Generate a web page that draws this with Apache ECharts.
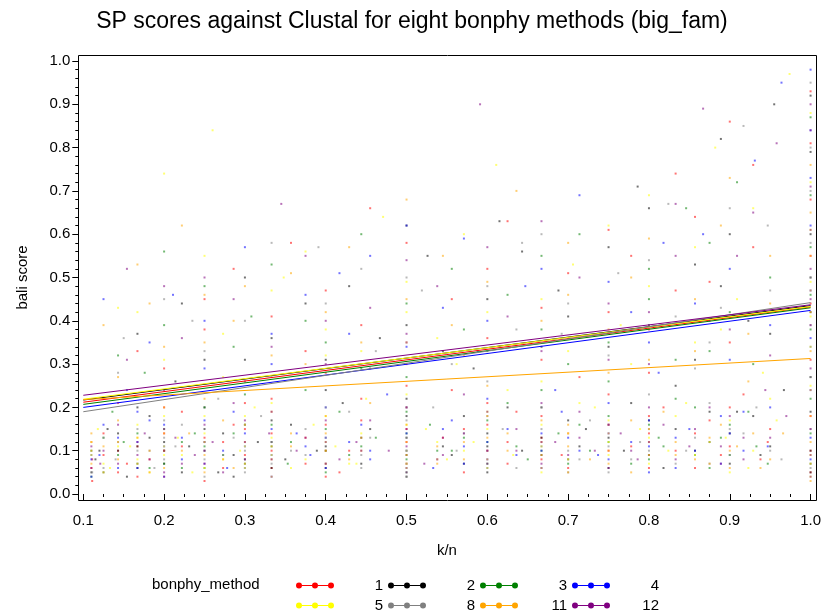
<!DOCTYPE html>
<html>
<head>
<meta charset="utf-8">
<script src="https://cdn.jsdelivr.net/npm/echarts@6/dist/echarts.min.js"></script>
<style>html,body{margin:0;padding:0;background:#fff}#c{width:824px;height:615px}</style>
</head>
<body>
<div id="c"></div>
<script>
const methods = ['1', '2', '3', '4', '5', '8', '11', '12'];
const colors = ['#ff0000', '#000000', '#008000', '#0000ff', '#ffff00', '#808080', '#ffa500', '#800080'];
const xTicks = [0.1, 0.2, 0.3, 0.4, 0.5, 0.6, 0.7, 0.8, 0.9, 1.0];
const yTicks = [0.0, 0.1, 0.2, 0.3, 0.4, 0.5, 0.6, 0.7, 0.8, 0.9, 1.0];
// fitted regression line endpoints (value at k/n = 0.1 and at k/n = 1.0)
const fitX = [0.1, 1.0];
const fitAtStart = [0.212, 0.217, 0.207, 0.200, 0.219, 0.190, 0.218, 0.228];
const fitAtEnd = [0.432, 0.435, 0.430, 0.424, 0.433, 0.442, 0.313, 0.437];

const pts1 = [[0.11,0.06],[0.11,0.12],[0.125,0.09],[0.143,0.05],[0.143,0.21],[0.167,0.11],[0.167,0.33],[0.182,0.08],[0.2,0.14],[0.2,0.04],[0.222,0.19],[0.25,0.07],[0.25,0.45],[0.273,0.12],[0.286,0.16],[0.3,0.09],[0.333,0.22],[0.333,0.06],[0.357,0.58],[0.375,0.13],[0.4,0.1],[0.4,0.28],[0.417,0.05],[0.444,0.17],[0.455,0.66],[0.5,0.12],[0.5,0.35],[0.538,0.08],[0.556,0.24],[0.571,0.15],[0.6,0.52],[0.6,0.1],[0.625,0.07],[0.636,0.19],[0.667,0.43],[0.667,0.13],[0.692,0.09],[0.714,0.27],[0.75,0.16],[0.75,0.61],[0.778,0.11],[0.8,0.38],[0.8,0.06],[0.818,0.2],[0.833,0.74],[0.857,0.14],[0.875,0.49],[0.889,0.09],[0.9,0.86],[0.917,0.23],[0.929,0.57],[0.947,0.12],[1.0,0.05],[1.0,0.31],[1.0,0.68],[1.0,0.93],[1.0,0.18]];
const pts1b = [[0.111,0.03],[0.111,0.08],[0.125,0.14],[0.143,0.1],[0.154,0.07],[0.167,0.04],[0.2,0.1],[0.2,0.2],[0.222,0.11],[0.25,0.13],[0.25,0.03],[0.273,0.06],[0.3,0.15],[0.3,0.21],[0.333,0.1],[0.333,0.14],[0.375,0.07],[0.4,0.16],[0.4,0.04],[0.429,0.1],[0.444,0.22],[0.5,0.07],[0.5,0.15],[0.5,0.25],[0.545,0.13],[0.571,0.05],[0.6,0.16],[0.6,0.21],[0.625,0.12],[0.667,0.08],[0.667,0.18],[0.7,0.06],[0.7,0.14],[0.75,0.1],[0.75,0.23],[0.8,0.14],[0.8,0.18],[0.833,0.1],[0.857,0.06],[0.875,0.17],[0.9,0.11],[0.9,0.2],[0.938,0.08],[0.95,0.15],[1.0,0.1],[1.0,0.44],[1.0,0.81]];
const pts1c = [[0.2,0.29],[0.25,0.38],[0.286,0.52],[0.333,0.41],[0.375,0.33],[0.4,0.47],[0.444,0.39],[0.5,0.58],[0.5,0.3],[0.556,0.45],[0.6,0.36],[0.625,0.63],[0.667,0.31],[0.7,0.51],[0.75,0.42],[0.778,0.55],[0.8,0.28],[0.833,0.47],[0.857,0.64],[0.9,0.35],[0.929,0.76],[1.0,0.55]];
const pts2 = [[0.115,0.08],[0.13,0.15],[0.143,0.1],[0.154,0.04],[0.167,0.2],[0.182,0.13],[0.2,0.07],[0.214,0.26],[0.231,0.11],[0.25,0.15],[0.267,0.05],[0.286,0.09],[0.3,0.31],[0.316,0.12],[0.333,0.17],[0.35,0.08],[0.375,0.44],[0.389,0.1],[0.4,0.06],[0.421,0.21],[0.444,0.13],[0.467,0.36],[0.5,0.09],[0.5,0.18],[0.526,0.55],[0.545,0.11],[0.571,0.07],[0.583,0.29],[0.6,0.14],[0.615,0.63],[0.643,0.1],[0.667,0.2],[0.688,0.47],[0.7,0.08],[0.722,0.15],[0.75,0.34],[0.769,0.1],[0.786,0.71],[0.8,0.17],[0.818,0.06],[0.833,0.25],[0.857,0.53],[0.875,0.12],[0.889,0.82],[0.909,0.19],[0.923,0.4],[0.938,0.09],[0.955,0.9],[0.967,0.24],[1.0,0.1],[1.0,0.42],[1.0,0.79],[1.0,0.27]];
const pts2b = [[0.11,0.05],[0.12,0.1],[0.143,0.14],[0.167,0.06],[0.167,0.11],[0.182,0.18],[0.2,0.12],[0.222,0.05],[0.25,0.1],[0.25,0.2],[0.273,0.14],[0.286,0.04],[0.3,0.08],[0.333,0.06],[0.333,0.12],[0.357,0.16],[0.4,0.11],[0.4,0.24],[0.444,0.07],[0.455,0.15],[0.5,0.04],[0.5,0.13],[0.5,0.22],[0.556,0.09],[0.571,0.18],[0.6,0.05],[0.6,0.11],[0.625,0.2],[0.667,0.13],[0.667,0.09],[0.7,0.17],[0.714,0.11],[0.75,0.06],[0.75,0.13],[0.778,0.21],[0.8,0.09],[0.833,0.15],[0.857,0.1],[0.875,0.19],[0.9,0.07],[0.9,0.14],[0.929,0.18],[0.95,0.11],[1.0,0.05],[1.0,0.19],[1.0,0.6],[1.0,0.92]];
const pts2c = [[0.167,0.37],[0.222,0.44],[0.25,0.31],[0.3,0.5],[0.333,0.36],[0.4,0.31],[0.429,0.48],[0.5,0.39],[0.5,0.62],[0.545,0.33],[0.6,0.45],[0.643,0.56],[0.667,0.34],[0.7,0.41],[0.75,0.57],[0.8,0.39],[0.8,0.66],[0.857,0.31],[0.889,0.48],[0.9,0.6],[0.95,0.37],[1.0,0.5]];
const pts3 = [[0.11,0.1],[0.125,0.05],[0.136,0.19],[0.15,0.12],[0.167,0.07],[0.176,0.28],[0.2,0.1],[0.2,0.56],[0.222,0.06],[0.238,0.14],[0.25,0.2],[0.273,0.09],[0.3,0.16],[0.308,0.41],[0.333,0.11],[0.353,0.07],[0.375,0.24],[0.4,0.15],[0.429,0.09],[0.444,0.6],[0.462,0.13],[0.5,0.05],[0.5,0.27],[0.529,0.16],[0.556,0.1],[0.571,0.38],[0.6,0.12],[0.625,0.21],[0.65,0.08],[0.667,0.55],[0.688,0.14],[0.7,0.3],[0.727,0.1],[0.75,0.18],[0.778,0.07],[0.8,0.45],[0.812,0.13],[0.833,0.22],[0.846,0.66],[0.857,0.09],[0.875,0.33],[0.9,0.16],[0.909,0.72],[0.933,0.11],[0.95,0.5],[1.0,0.07],[1.0,0.22],[1.0,0.57],[1.0,0.87]];
const pts3b = [[0.11,0.04],[0.125,0.13],[0.143,0.09],[0.167,0.14],[0.182,0.06],[0.2,0.15],[0.2,0.07],[0.222,0.12],[0.25,0.06],[0.25,0.11],[0.286,0.14],[0.3,0.07],[0.3,0.23],[0.333,0.16],[0.357,0.12],[0.4,0.05],[0.4,0.1],[0.417,0.19],[0.444,0.11],[0.5,0.08],[0.5,0.14],[0.5,0.19],[0.538,0.1],[0.571,0.13],[0.6,0.07],[0.6,0.17],[0.636,0.11],[0.667,0.1],[0.667,0.24],[0.7,0.07],[0.714,0.16],[0.75,0.12],[0.75,0.26],[0.8,0.08],[0.8,0.16],[0.818,0.11],[0.857,0.2],[0.875,0.06],[0.889,0.13],[0.9,0.09],[0.923,0.19],[0.947,0.07],[1.0,0.14],[1.0,0.38],[1.0,0.69]];
const pts3c = [[0.143,0.32],[0.2,0.39],[0.25,0.48],[0.286,0.34],[0.333,0.53],[0.375,0.4],[0.4,0.35],[0.444,0.29],[0.5,0.44],[0.556,0.52],[0.6,0.33],[0.625,0.46],[0.667,0.38],[0.714,0.6],[0.75,0.35],[0.8,0.52],[0.833,0.31],[0.875,0.58],[0.9,0.42],[0.929,0.3],[1.0,0.46]];
const pts4 = [[0.11,0.04],[0.12,0.09],[0.143,0.13],[0.154,0.24],[0.167,0.06],[0.182,0.17],[0.2,0.11],[0.211,0.46],[0.222,0.08],[0.25,0.12],[0.25,0.29],[0.278,0.06],[0.286,0.19],[0.3,0.11],[0.333,0.04],[0.333,0.37],[0.364,0.14],[0.381,0.09],[0.4,0.2],[0.417,0.51],[0.429,0.12],[0.455,0.08],[0.476,0.23],[0.5,0.14],[0.5,0.62],[0.533,0.06],[0.556,0.17],[0.571,0.11],[0.588,0.33],[0.6,0.08],[0.625,0.15],[0.647,0.48],[0.667,0.1],[0.684,0.24],[0.7,0.13],[0.714,0.69],[0.737,0.09],[0.75,0.21],[0.778,0.42],[0.8,0.11],[0.812,0.28],[0.833,0.06],[0.85,0.15],[0.867,0.6],[0.889,0.18],[0.9,0.31],[0.917,0.1],[0.931,0.77],[0.95,0.2],[0.964,0.95],[1.0,0.13],[1.0,0.36],[1.0,0.62],[1.0,0.98]];
const pts4b = [[0.11,0.08],[0.125,0.16],[0.143,0.06],[0.167,0.12],[0.167,0.19],[0.2,0.04],[0.2,0.16],[0.222,0.13],[0.25,0.07],[0.25,0.17],[0.273,0.1],[0.3,0.14],[0.3,0.06],[0.333,0.09],[0.333,0.15],[0.375,0.11],[0.4,0.06],[0.4,0.13],[0.444,0.16],[0.455,0.1],[0.5,0.06],[0.5,0.1],[0.5,0.2],[0.545,0.15],[0.571,0.07],[0.6,0.12],[0.6,0.22],[0.636,0.09],[0.667,0.14],[0.667,0.06],[0.692,0.19],[0.714,0.1],[0.75,0.14],[0.75,0.08],[0.778,0.12],[0.8,0.17],[0.8,0.05],[0.833,0.13],[0.857,0.1],[0.889,0.07],[0.9,0.14],[0.917,0.19],[0.947,0.11],[1.0,0.08],[1.0,0.24],[1.0,0.47],[1.0,0.84]];
const pts4c = [[0.125,0.45],[0.182,0.35],[0.25,0.4],[0.3,0.57],[0.333,0.3],[0.375,0.46],[0.429,0.37],[0.455,0.55],[0.5,0.34],[0.545,0.43],[0.571,0.59],[0.6,0.4],[0.667,0.52],[0.7,0.36],[0.75,0.49],[0.8,0.35],[0.818,0.58],[0.857,0.44],[0.9,0.52],[0.95,0.39],[1.0,0.73]];
const pts5 = [[0.11,0.09],[0.118,0.15],[0.133,0.06],[0.143,0.43],[0.158,0.11],[0.167,0.16],[0.182,0.23],[0.2,0.09],[0.2,0.74],[0.217,0.13],[0.235,0.05],[0.25,0.18],[0.26,0.84],[0.273,0.27],[0.294,0.1],[0.3,0.06],[0.312,0.2],[0.333,0.13],[0.348,0.5],[0.375,0.08],[0.385,0.16],[0.4,0.32],[0.412,0.11],[0.438,0.07],[0.45,0.22],[0.471,0.64],[0.5,0.1],[0.5,0.42],[0.524,0.15],[0.55,0.08],[0.562,0.3],[0.583,0.12],[0.6,0.19],[0.611,0.76],[0.632,0.09],[0.667,0.26],[0.667,0.05],[0.7,0.14],[0.706,0.53],[0.733,0.2],[0.75,0.09],[0.765,0.39],[0.789,0.15],[0.8,0.69],[0.824,0.1],[0.846,0.21],[0.857,0.35],[0.882,0.8],[0.895,0.13],[0.909,0.45],[0.923,0.06],[0.941,0.28],[0.958,0.17],[0.974,0.97],[1.0,0.04],[1.0,0.25],[1.0,0.49],[1.0,0.72]];
const pts5b = [[0.11,0.12],[0.125,0.07],[0.143,0.11],[0.167,0.08],[0.167,0.13],[0.182,0.05],[0.2,0.11],[0.2,0.18],[0.222,0.09],[0.25,0.06],[0.25,0.14],[0.273,0.08],[0.3,0.11],[0.3,0.18],[0.333,0.09],[0.333,0.21],[0.357,0.06],[0.4,0.12],[0.4,0.18],[0.429,0.07],[0.444,0.14],[0.5,0.07],[0.5,0.16],[0.5,0.23],[0.538,0.12],[0.571,0.1],[0.6,0.06],[0.6,0.15],[0.625,0.24],[0.667,0.11],[0.667,0.16],[0.7,0.08],[0.714,0.21],[0.75,0.12],[0.75,0.17],[0.8,0.07],[0.8,0.13],[0.833,0.18],[0.857,0.09],[0.875,0.12],[0.9,0.05],[0.9,0.17],[0.929,0.1],[0.95,0.22],[1.0,0.09],[1.0,0.34],[1.0,0.61],[1.0,0.88]];
const pts5c = [[0.167,0.42],[0.2,0.31],[0.25,0.55],[0.273,0.37],[0.333,0.47],[0.375,0.56],[0.4,0.38],[0.444,0.33],[0.5,0.49],[0.538,0.36],[0.571,0.6],[0.6,0.42],[0.667,0.45],[0.7,0.33],[0.75,0.62],[0.778,0.3],[0.8,0.48],[0.857,0.57],[0.889,0.38],[0.929,0.66],[1.0,0.41]];
const pts8 = [[0.111,0.05],[0.125,0.13],[0.14,0.08],[0.15,0.36],[0.167,0.1],[0.188,0.06],[0.2,0.17],[0.214,0.11],[0.235,0.4],[0.25,0.08],[0.267,0.22],[0.286,0.13],[0.3,0.05],[0.32,0.18],[0.333,0.27],[0.357,0.1],[0.375,0.15],[0.391,0.57],[0.4,0.07],[0.429,0.19],[0.444,0.09],[0.462,0.33],[0.5,0.13],[0.5,0.07],[0.519,0.47],[0.533,0.2],[0.562,0.1],[0.6,0.26],[0.6,0.06],[0.619,0.15],[0.643,0.58],[0.667,0.11],[0.692,0.37],[0.714,0.08],[0.727,0.17],[0.75,0.05],[0.762,0.51],[0.789,0.12],[0.8,0.23],[0.824,0.67],[0.846,0.1],[0.857,0.29],[0.875,0.07],[0.889,0.43],[0.9,0.15],[0.917,0.85],[0.933,0.2],[0.947,0.62],[0.964,0.08],[1.0,0.15],[1.0,0.39],[1.0,0.58],[1.0,0.8]];
const pts8b = [[0.11,0.09],[0.125,0.06],[0.143,0.12],[0.167,0.15],[0.182,0.1],[0.2,0.08],[0.2,0.13],[0.222,0.16],[0.25,0.12],[0.25,0.04],[0.273,0.09],[0.3,0.1],[0.3,0.16],[0.333,0.07],[0.333,0.12],[0.375,0.09],[0.4,0.13],[0.4,0.2],[0.444,0.06],[0.455,0.13],[0.5,0.1],[0.5,0.17],[0.5,0.04],[0.538,0.08],[0.571,0.14],[0.6,0.1],[0.6,0.18],[0.636,0.06],[0.667,0.15],[0.667,0.2],[0.7,0.1],[0.7,0.05],[0.75,0.11],[0.75,0.16],[0.778,0.08],[0.8,0.1],[0.8,0.15],[0.833,0.07],[0.857,0.13],[0.875,0.21],[0.9,0.09],[0.917,0.14],[0.95,0.1],[1.0,0.06],[1.0,0.27],[1.0,0.5],[1.0,0.7],[1.0,0.95]];
const pts8c = [[0.143,0.28],[0.2,0.45],[0.25,0.33],[0.3,0.4],[0.333,0.58],[0.4,0.44],[0.444,0.52],[0.5,0.35],[0.5,0.5],[0.556,0.3],[0.6,0.48],[0.636,0.38],[0.667,0.6],[0.7,0.44],[0.75,0.32],[0.8,0.54],[0.833,0.41],[0.875,0.35],[0.9,0.66],[0.95,0.47],[1.0,0.34]];
const pts11 = [[0.11,0.07],[0.125,0.11],[0.143,0.08],[0.143,0.27],[0.167,0.13],[0.167,0.53],[0.182,0.05],[0.2,0.2],[0.2,0.1],[0.222,0.62],[0.231,0.14],[0.25,0.09],[0.25,0.35],[0.273,0.17],[0.286,0.06],[0.3,0.12],[0.3,0.48],[0.333,0.08],[0.333,0.19],[0.357,0.11],[0.375,0.3],[0.4,0.07],[0.4,0.14],[0.429,0.57],[0.444,0.1],[0.455,0.21],[0.5,0.06],[0.5,0.16],[0.5,0.68],[0.538,0.11],[0.556,0.39],[0.571,0.08],[0.6,0.13],[0.6,0.25],[0.625,0.1],[0.636,0.7],[0.667,0.06],[0.667,0.17],[0.7,0.11],[0.7,0.46],[0.727,0.08],[0.75,0.14],[0.75,0.28],[0.778,0.05],[0.8,0.12],[0.8,0.59],[0.818,0.19],[0.833,0.09],[0.857,0.33],[0.875,0.07],[0.889,0.16],[0.9,0.73],[0.909,0.11],[0.923,0.26],[0.938,0.06],[0.95,0.44],[0.966,0.14],[1.0,0.03],[1.0,0.12],[1.0,0.33],[1.0,0.55],[1.0,0.76]];
const pts11b = [[0.11,0.1],[0.11,0.14],[0.125,0.05],[0.143,0.12],[0.143,0.17],[0.167,0.07],[0.182,0.1],[0.2,0.06],[0.2,0.14],[0.222,0.1],[0.25,0.05],[0.25,0.12],[0.25,0.22],[0.273,0.08],[0.3,0.07],[0.3,0.16],[0.333,0.11],[0.333,0.04],[0.357,0.14],[0.4,0.1],[0.4,0.18],[0.429,0.08],[0.444,0.13],[0.5,0.09],[0.5,0.12],[0.5,0.2],[0.538,0.07],[0.571,0.12],[0.6,0.08],[0.6,0.18],[0.625,0.14],[0.667,0.09],[0.667,0.12],[0.7,0.05],[0.7,0.16],[0.75,0.07],[0.75,0.1],[0.778,0.17],[0.8,0.09],[0.8,0.15],[0.833,0.12],[0.857,0.08],[0.875,0.13],[0.9,0.06],[0.9,0.1],[0.929,0.14],[0.95,0.08],[1.0,0.07],[1.0,0.18],[1.0,0.24],[1.0,0.42],[1.0,0.65]];
const pts11c = [[0.125,0.39],[0.182,0.44],[0.2,0.34],[0.25,0.46],[0.286,0.4],[0.333,0.32],[0.357,0.51],[0.4,0.42],[0.444,0.35],[0.5,0.45],[0.545,0.55],[0.571,0.32],[0.6,0.49],[0.667,0.4],[0.7,0.58],[0.75,0.38],[0.778,0.5],[0.8,0.31],[0.857,0.45],[0.889,0.62],[0.923,0.37],[0.95,0.55],[1.0,0.47]];
const pts12 = [[0.11,0.11],[0.121,0.07],[0.143,0.16],[0.154,0.52],[0.167,0.09],[0.176,0.14],[0.2,0.05],[0.2,0.24],[0.214,0.13],[0.238,0.09],[0.25,0.5],[0.26,0.12],[0.286,0.21],[0.3,0.08],[0.3,0.26],[0.33,0.14],[0.345,0.67],[0.364,0.1],[0.4,0.17],[0.4,0.4],[0.417,0.08],[0.438,0.12],[0.455,0.29],[0.478,0.1],[0.5,0.2],[0.5,0.54],[0.522,0.07],[0.545,0.13],[0.571,0.23],[0.591,0.9],[0.6,0.1],[0.615,0.34],[0.636,0.15],[0.667,0.07],[0.667,0.63],[0.684,0.12],[0.714,0.19],[0.733,0.1],[0.75,0.44],[0.765,0.14],[0.786,0.08],[0.8,0.3],[0.818,0.16],[0.833,0.55],[0.85,0.11],[0.867,0.89],[0.875,0.2],[0.889,0.07],[0.9,0.38],[0.917,0.13],[0.929,0.65],[0.944,0.24],[0.958,0.81],[0.97,0.18],[1.0,0.09],[1.0,0.29],[1.0,0.52],[1.0,0.71],[1.0,0.9]];
const pts12b = [[0.11,0.06],[0.125,0.1],[0.143,0.07],[0.167,0.12],[0.182,0.08],[0.2,0.1],[0.2,0.15],[0.222,0.07],[0.25,0.1],[0.25,0.16],[0.273,0.05],[0.3,0.12],[0.3,0.17],[0.333,0.08],[0.333,0.19],[0.375,0.13],[0.4,0.07],[0.4,0.12],[0.444,0.1],[0.455,0.17],[0.5,0.05],[0.5,0.11],[0.5,0.15],[0.545,0.09],[0.571,0.14],[0.6,0.07],[0.6,0.19],[0.636,0.1],[0.667,0.12],[0.667,0.21],[0.7,0.09],[0.714,0.13],[0.75,0.06],[0.75,0.16],[0.778,0.1],[0.8,0.12],[0.8,0.2],[0.833,0.08],[0.857,0.15],[0.889,0.11],[0.9,0.18],[0.917,0.08],[0.95,0.13],[1.0,0.04],[1.0,0.15],[1.0,0.39],[1.0,0.61],[1.0,0.84]];
const pts12c = [[0.154,0.31],[0.2,0.48],[0.222,0.36],[0.286,0.45],[0.333,0.34],[0.375,0.55],[0.4,0.3],[0.455,0.43],[0.5,0.37],[0.538,0.48],[0.6,0.57],[0.625,0.41],[0.667,0.33],[0.714,0.5],[0.75,0.31],[0.8,0.42],[0.833,0.67],[0.875,0.4],[0.909,0.55],[0.95,0.32],[1.0,0.45]];
const pointSets = [pts1.concat(pts1b, pts1c), pts2.concat(pts2b, pts2c), pts3.concat(pts3b, pts3c), pts4.concat(pts4b, pts4c),
                   pts5.concat(pts5b, pts5c), pts8.concat(pts8b, pts8c), pts11.concat(pts11b, pts11c), pts12.concat(pts12b, pts12c)];

const FONT = 'Liberation Sans, Arial, sans-serif';
const legendIcon = 'path://M0,3A3,3 0 1,1 6,3A3,3 0 1,1 0,3Z M6,2.4L16,2.4L16,3.6L6,3.6Z M16,3A3,3 0 1,1 22,3A3,3 0 1,1 16,3Z M22,2.4L32,2.4L32,3.6L22,3.6Z M32,3A3,3 0 1,1 38,3A3,3 0 1,1 32,3Z';

const series = [];
methods.forEach((m, i) => {
  series.push({
    name: m, type: 'line', showSymbol: false, symbol: 'none',
    data: [[fitX[0], fitAtStart[i]], [fitX[1], fitAtEnd[i]]],
    lineStyle: { color: colors[i], width: 1 }, itemStyle: { color: colors[i], opacity: 1 },
    silent: true, z: 3
  });
});
methods.forEach((m, i) => {
  series.push({
    name: m, type: 'scatter', data: pointSets[i], symbol: 'rect', symbolSize: 2,
    itemStyle: { color: colors[i], opacity: 0.55 }, silent: true, z: 2
  });
});

const chart = echarts.init(document.getElementById('c'), null, { renderer: 'canvas' });
chart.setOption({
  animation: false,
  backgroundColor: '#fff',
  title: {
    text: 'SP scores against Clustal for eight bonphy methods (big_fam)',
    left: 'center', top: 5,
    textStyle: { fontFamily: FONT, fontSize: 23, fontWeight: 'normal', color: '#000' }
  },
  grid: { left: 83.3, right: 12, top: 61, bottom: 121 },
  xAxis: {
    type: 'value', min: xTicks[0], max: xTicks[xTicks.length - 1], interval: 0.1, offset: 6,
    name: 'k/n', nameLocation: 'middle', nameGap: 43,
    nameTextStyle: { fontFamily: FONT, fontSize: 15, color: '#000' },
    axisLine: { show: false },
    axisTick: { show: true, length: 6, lineStyle: { color: '#000' } },
    minorTick: { show: true, splitNumber: 4, length: 3, lineStyle: { color: '#000' } },
    splitLine: { show: false },
    axisLabel: { margin: 13, fontFamily: FONT, fontSize: 15, color: '#000', formatter: v => v.toFixed(1) }
  },
  yAxis: {
    type: 'value', min: yTicks[0], max: yTicks[yTicks.length - 1], interval: 0.1, offset: 5,
    name: 'bali score', nameLocation: 'middle', nameGap: 48,
    nameTextStyle: { fontFamily: FONT, fontSize: 15, color: '#000' },
    axisLine: { show: false },
    axisTick: { show: true, length: 6, lineStyle: { color: '#000' } },
    minorTick: { show: true, splitNumber: 5, length: 3, lineStyle: { color: '#000' } },
    splitLine: { show: false },
    axisLabel: { margin: 8, fontFamily: FONT, fontSize: 15, color: '#000', formatter: v => v.toFixed(1) }
  },
  legend: {
    data: methods, left: 291, top: 573, width: 380, orient: 'horizontal',
    itemWidth: 38, itemHeight: 6, itemGap: 5, icon: legendIcon,
    selectedMode: false,
    itemStyle: { opacity: 1 },
    formatter: n => '{t|' + n + '}',
    textStyle: { fontFamily: FONT, fontSize: 15, color: '#000',
      rich: { t: { width: 44, align: 'right', fontFamily: FONT, fontSize: 15, color: '#000' } } }
  },
  graphic: [
    { type: 'rect', silent: true, z: 10,
      shape: { x: 78.5, y: 55.5, width: 738, height: 445 },
      style: { fill: 'none', stroke: '#000', lineWidth: 1 } },
    { type: 'text', silent: true, left: 152, top: 577,
      style: { text: 'bonphy_method', fontFamily: FONT, fontSize: 15, fill: '#000' } }
  ],
  series: series
});
</script>
</body>
</html>
